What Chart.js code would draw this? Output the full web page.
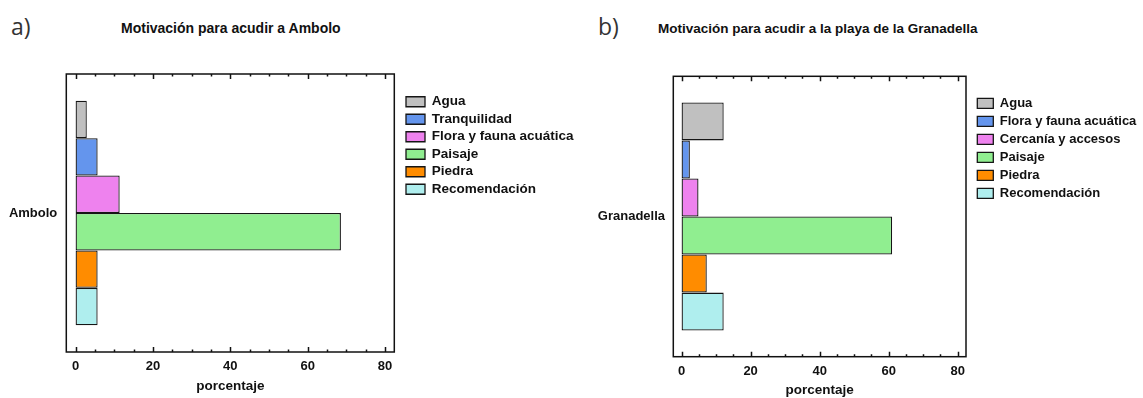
<!DOCTYPE html>
<html>
<head>
<meta charset="utf-8">
<script src="https://cdn.jsdelivr.net/npm/chart.js@4.4.1/dist/chart.umd.min.js"></script>
<style>
  body { margin: 0; background: #fff; width: 1143px; height: 398px; position: relative; overflow: hidden; }
  canvas { position: absolute; top: 0; }
  #chartA { left: 0; }
  #chartB { left: 580px; }
  .panel { position: absolute; font-family: "Open Sans", sans-serif; font-size: 23px; line-height: 23px; color: #333; }
  .title { position: absolute; font-family: "Liberation Sans", Arial, sans-serif; font-weight: bold; color: #111; line-height: 16px; white-space: nowrap; }
</style>
</head>
<body>
<div class="panel" style="left:11px; top:15px;">a)</div>
<div class="title" style="left:121px; top:20px; font-size:14px;">Motivación para acudir a Ambolo</div>
<canvas id="chartA" width="580" height="398"></canvas>

<div class="panel" style="left:598px; top:15px;">b)</div>
<div class="title" style="left:658px; top:21px; font-size:13.5px;">Motivación para acudir a la playa de la Granadella</div>
<canvas id="chartB" width="563" height="398"></canvas>

<script>
// Datos (porcentaje)
const amboloCategory = ['Ambolo'];
const amboloLabels = ['Agua', 'Tranquilidad', 'Flora y fauna acuática', 'Paisaje', 'Piedra', 'Recomendación'];
const amboloValues = [2.9, 5.7, 11.4, 68.6, 5.7, 5.7];

const granadellaCategory = ['Granadella'];
const granadellaLabels = ['Agua', 'Flora y fauna acuática', 'Cercanía y accesos', 'Paisaje', 'Piedra', 'Recomendación'];
const granadellaValues = [12.2, 2.4, 4.9, 61.0, 7.3, 12.2];

const amboloColors = ['#c0c0c0', '#6495ed', '#ee82ee', '#90ee90', '#ff8c00', '#afeeee'];
const granadellaColors = ['#c0c0c0', '#6495ed', '#ee82ee', '#90ee90', '#ff8c00', '#afeeee'];

const xTicks = [0, 20, 40, 60, 80];
const minorStep = 5;

Chart.defaults.font.family = '"Liberation Sans", Arial, sans-serif';
Chart.defaults.color = '#111';

// Marco del área de trazado + marcas menores/mayores hacia dentro, y desplazamiento de la leyenda
const framePlugin = {
    id: 'frame',
    afterLayout(chart, args, opts) {
        const lg = chart.legend;
        if (!lg) return;
        lg.left += opts.dx;
        lg.right = chart.width;          // que el recorte no corte el texto
        lg.width = lg.right - lg.left;
        lg.top += opts.dy; lg.bottom += opts.dy;
    },
    afterDatasetsDraw(chart) {
        const { ctx, chartArea: a } = chart;
        const x = chart.scales.x;
        ctx.save();
        ctx.strokeStyle = '#111';
        ctx.lineWidth = 1.5;
        ctx.strokeRect(a.left, a.top, a.width, a.height);
        for (let v = xTicks[0]; v <= xTicks[xTicks.length - 1]; v += minorStep) {
            const px = Math.round(x.getPixelForValue(v)) + 0.5;
            const len = xTicks.includes(v) ? 5 : 2.5;
            ctx.beginPath();
            ctx.moveTo(px, a.bottom); ctx.lineTo(px, a.bottom - len);
            ctx.moveTo(px, a.top); ctx.lineTo(px, a.top + len);
            ctx.stroke();
        }
        ctx.restore();
    }
};

function buildChart(id, category, labels, values, colors, cfg) {
    const datasets = labels.map((lab, i) => ({
        label: lab,
        data: [values[i]],
        backgroundColor: colors[i],
        borderColor: '#151515',
        borderWidth: 1.3,
        borderSkipped: false,
        barPercentage: 1.0,
        categoryPercentage: cfg.catPct
    }));

    return new Chart(document.getElementById(id), {
        type: 'bar',
        data: { labels: category, datasets: datasets },
        plugins: [framePlugin],
        options: {
            indexAxis: 'y',
            responsive: false,
            animation: false,
            devicePixelRatio: 1,
            layout: { padding: cfg.padding },
            scales: {
                x: {
                    type: 'linear',
                    min: -2.4,
                    max: 82.4,
                    afterBuildTicks: (scale) => { scale.ticks = xTicks.map(v => ({ value: v })); },
                    afterFit: (scale) => { scale.height = cfg.xHeight; },
                    grid: { display: false, drawTicks: false },
                    border: { display: false },
                    ticks: {
                        padding: cfg.xTickPad,
                        font: { size: 13, weight: 'bold' },
                        color: '#111'
                    },
                    title: {
                        display: true,
                        text: 'porcentaje',
                        font: { size: 13.5, weight: 'bold' },
                        color: '#111',
                        padding: { top: 0, bottom: cfg.titlePad }
                    }
                },
                y: {
                    type: 'category',
                    afterFit: (scale) => { scale.width = cfg.yWidth; },
                    grid: { display: false, drawTicks: false },
                    border: { display: false },
                    ticks: {
                        padding: cfg.yTickPad,
                        font: { size: 13, weight: 'bold' },
                        color: '#111'
                    }
                }
            },
            plugins: {
                frame: { dx: cfg.legendDx, dy: cfg.legendDy },
                legend: {
                    position: 'right',
                    align: 'start',
                    fullSize: false,
                    maxWidth: 150,
                    labels: {
                        boxWidth: cfg.boxW,
                        boxHeight: 10,
                        padding: cfg.legendPad,
                        color: '#111',
                        font: { size: cfg.legendFont, weight: 'bold' }
                    }
                },
                tooltip: { enabled: false },
                title: { display: false }
            }
        }
    });
}

// a) Ambolo
buildChart('chartA', amboloCategory, amboloLabels, amboloValues, amboloColors, {
    catPct: 0.808,
    padding: { left: 6.3, top: 74, right: 35.7, bottom: 0 },
    xHeight: 46, xTickPad: 7, titlePad: 4,
    yWidth: 60, yTickPad: 9,
    legendDx: 7.7, legendDy: 17, legendPad: 4, legendFont: 13.5, boxW: 19
});

// b) Granadella
buildChart('chartB', granadellaCategory, granadellaLabels, granadellaValues, granadellaColors, {
    catPct: 0.814,
    padding: { left: 6.3, top: 76.3, right: 27, bottom: 0 },
    xHeight: 41.3, xTickPad: 7.2, titlePad: 0,
    yWidth: 87, yTickPad: 8.3,
    legendDx: 6.3, legendDy: 15.5, legendPad: 5, legendFont: 13, boxW: 16
});
</script>
</body>
</html>
